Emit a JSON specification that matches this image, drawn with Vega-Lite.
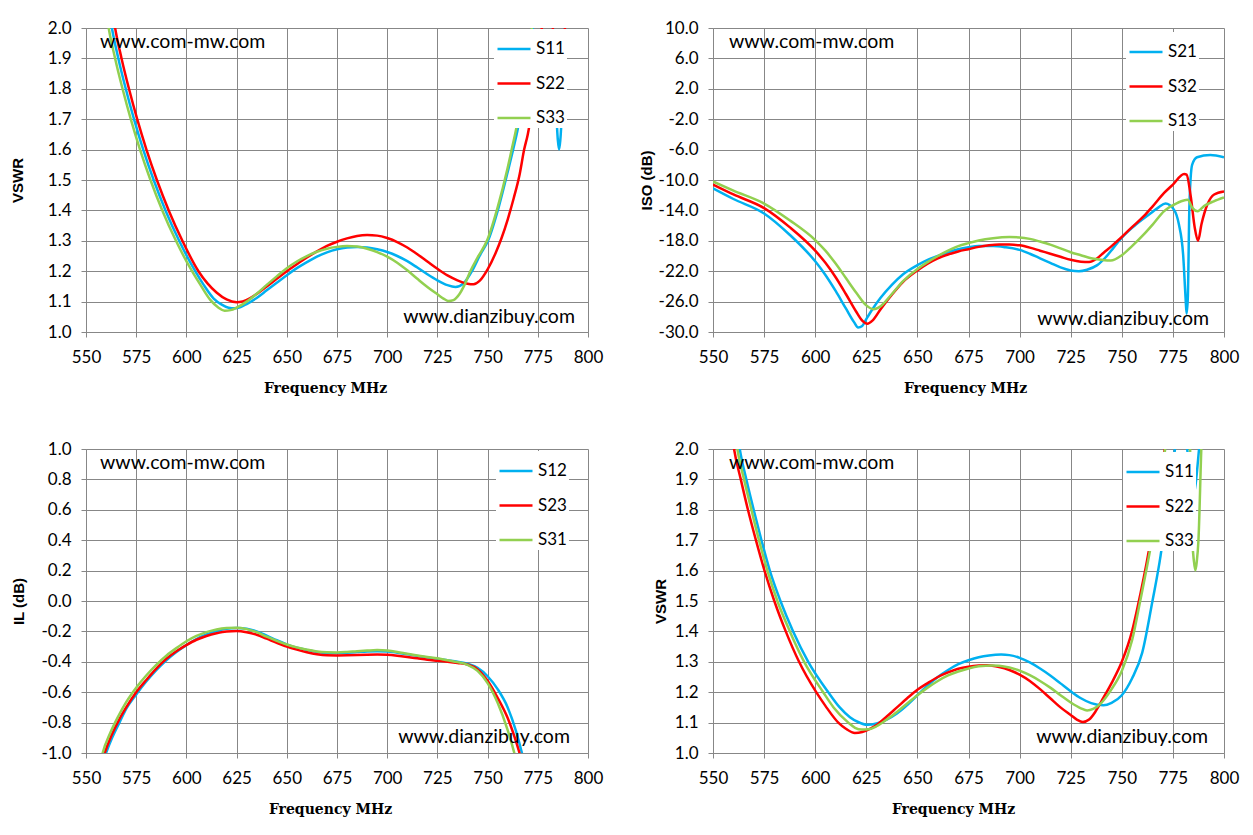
{
  "$schema": "https://vega.github.io/schema/vega-lite/v6.json",
  "padding": {"left": 10, "top": 19, "right": 5, "bottom": 5},
  "background": "white",
  "datasets": {
    "vswrA": [
      {"f": 556, "v": 2.35, "s": "S11"}, {"f": 562.9, "v": 2.0, "s": "S11"}, {"f": 566.1, "v": 1.9, "s": "S11"}, {"f": 569.8, "v": 1.8, "s": "S11"},
      {"f": 573.9, "v": 1.7, "s": "S11"}, {"f": 578.5, "v": 1.6, "s": "S11"}, {"f": 583.7, "v": 1.5, "s": "S11"}, {"f": 589.6, "v": 1.4, "s": "S11"},
      {"f": 596.4, "v": 1.3, "s": "S11"}, {"f": 604.4, "v": 1.2, "s": "S11"}, {"f": 608.6, "v": 1.155, "s": "S11"}, {"f": 613.6, "v": 1.11, "s": "S11"},
      {"f": 617.6, "v": 1.09, "s": "S11"}, {"f": 621, "v": 1.08, "s": "S11"}, {"f": 624, "v": 1.078, "s": "S11"}, {"f": 627, "v": 1.082, "s": "S11"},
      {"f": 630, "v": 1.092, "s": "S11"}, {"f": 635, "v": 1.112, "s": "S11"}, {"f": 640, "v": 1.137, "s": "S11"}, {"f": 645, "v": 1.162, "s": "S11"},
      {"f": 650, "v": 1.187, "s": "S11"}, {"f": 655, "v": 1.21, "s": "S11"}, {"f": 660, "v": 1.23, "s": "S11"}, {"f": 665, "v": 1.248, "s": "S11"},
      {"f": 670, "v": 1.262, "s": "S11"}, {"f": 675, "v": 1.272, "s": "S11"}, {"f": 680, "v": 1.278, "s": "S11"}, {"f": 685, "v": 1.28, "s": "S11"},
      {"f": 690, "v": 1.278, "s": "S11"}, {"f": 695, "v": 1.272, "s": "S11"}, {"f": 700, "v": 1.263, "s": "S11"}, {"f": 705, "v": 1.25, "s": "S11"},
      {"f": 710, "v": 1.233, "s": "S11"}, {"f": 715, "v": 1.212, "s": "S11"}, {"f": 720, "v": 1.19, "s": "S11"}, {"f": 725, "v": 1.17, "s": "S11"},
      {"f": 730, "v": 1.154, "s": "S11"}, {"f": 734, "v": 1.148, "s": "S11"}, {"f": 738, "v": 1.16, "s": "S11"}, {"f": 742.2, "v": 1.2, "s": "S11"},
      {"f": 746, "v": 1.25, "s": "S11"}, {"f": 750.5, "v": 1.305, "s": "S11"}, {"f": 755.5, "v": 1.41, "s": "S11"}, {"f": 760.5, "v": 1.54, "s": "S11"},
      {"f": 762.7, "v": 1.6, "s": "S11"}, {"f": 764.8, "v": 1.66, "s": "S11"}, {"f": 768.8, "v": 1.81, "s": "S11"}, {"f": 772.5, "v": 2.0, "s": "S11"},
      {"f": 776, "v": 2.3, "s": "S11"}, {"f": 779, "v": 2.3, "s": "S11"}, {"f": 782, "v": 2.1, "s": "S11"}, {"f": 784, "v": 1.75, "s": "S11"},
      {"f": 785, "v": 1.63, "s": "S11"}, {"f": 785.6, "v": 1.6, "s": "S11"}, {"f": 786.2, "v": 1.63, "s": "S11"}, {"f": 787.2, "v": 1.75, "s": "S11"},
      {"f": 789, "v": 2.1, "s": "S11"}, {"f": 794, "v": 2.6, "s": "S11"}, {"f": 800, "v": 2.8, "s": "S11"},
      {"f": 558, "v": 2.35, "s": "S22"}, {"f": 564.5, "v": 2.0, "s": "S22"}, {"f": 567.7, "v": 1.9, "s": "S22"}, {"f": 571.4, "v": 1.8, "s": "S22"},
      {"f": 575.5, "v": 1.7, "s": "S22"}, {"f": 580.1, "v": 1.6, "s": "S22"}, {"f": 585.3, "v": 1.5, "s": "S22"}, {"f": 591.2, "v": 1.4, "s": "S22"},
      {"f": 598, "v": 1.3, "s": "S22"}, {"f": 606, "v": 1.2, "s": "S22"}, {"f": 610.5, "v": 1.16, "s": "S22"}, {"f": 615, "v": 1.13, "s": "S22"},
      {"f": 620, "v": 1.107, "s": "S22"}, {"f": 625, "v": 1.098, "s": "S22"}, {"f": 628, "v": 1.1, "s": "S22"},
      {"f": 632, "v": 1.112, "s": "S22"}, {"f": 635, "v": 1.125, "s": "S22"}, {"f": 640, "v": 1.15, "s": "S22"}, {"f": 645, "v": 1.175, "s": "S22"},
      {"f": 650, "v": 1.2, "s": "S22"}, {"f": 655, "v": 1.223, "s": "S22"}, {"f": 660, "v": 1.245, "s": "S22"}, {"f": 665, "v": 1.265, "s": "S22"},
      {"f": 670, "v": 1.283, "s": "S22"}, {"f": 675, "v": 1.297, "s": "S22"}, {"f": 680, "v": 1.308, "s": "S22"}, {"f": 685, "v": 1.316, "s": "S22"},
      {"f": 690, "v": 1.319, "s": "S22"}, {"f": 695, "v": 1.317, "s": "S22"}, {"f": 700, "v": 1.309, "s": "S22"}, {"f": 705, "v": 1.296, "s": "S22"},
      {"f": 710, "v": 1.278, "s": "S22"}, {"f": 715, "v": 1.256, "s": "S22"}, {"f": 720, "v": 1.232, "s": "S22"}, {"f": 725, "v": 1.208, "s": "S22"},
      {"f": 730, "v": 1.186, "s": "S22"}, {"f": 735, "v": 1.17, "s": "S22"}, {"f": 740, "v": 1.159, "s": "S22"}, {"f": 743, "v": 1.157, "s": "S22"},
      {"f": 746, "v": 1.168, "s": "S22"}, {"f": 750, "v": 1.206, "s": "S22"}, {"f": 754, "v": 1.26, "s": "S22"}, {"f": 757, "v": 1.31, "s": "S22"},
      {"f": 760, "v": 1.37, "s": "S22"}, {"f": 763, "v": 1.44, "s": "S22"}, {"f": 766, "v": 1.52, "s": "S22"}, {"f": 768.2, "v": 1.6, "s": "S22"},
      {"f": 770, "v": 1.65, "s": "S22"}, {"f": 773.5, "v": 1.8, "s": "S22"}, {"f": 777, "v": 2.0, "s": "S22"}, {"f": 780, "v": 2.25, "s": "S22"},
      {"f": 781.5, "v": 2.2, "s": "S22"}, {"f": 782.5, "v": 2.0, "s": "S22"}, {"f": 785.5, "v": 1.8, "s": "S22"}, {"f": 788.5, "v": 2.0, "s": "S22"},
      {"f": 792, "v": 2.4, "s": "S22"}, {"f": 800, "v": 2.6, "s": "S22"},
      {"f": 555, "v": 2.35, "s": "S33"}, {"f": 561.3, "v": 2.0, "s": "S33"}, {"f": 564.5, "v": 1.9, "s": "S33"}, {"f": 568.2, "v": 1.8, "s": "S33"},
      {"f": 572.3, "v": 1.7, "s": "S33"}, {"f": 576.9, "v": 1.6, "s": "S33"}, {"f": 582.1, "v": 1.5, "s": "S33"}, {"f": 588, "v": 1.4, "s": "S33"},
      {"f": 594.8, "v": 1.3, "s": "S33"}, {"f": 602.8, "v": 1.2, "s": "S33"}, {"f": 607, "v": 1.155, "s": "S33"}, {"f": 612, "v": 1.105, "s": "S33"},
      {"f": 616, "v": 1.08, "s": "S33"}, {"f": 619, "v": 1.07, "s": "S33"}, {"f": 622, "v": 1.072, "s": "S33"}, {"f": 625, "v": 1.08, "s": "S33"},
      {"f": 630, "v": 1.1, "s": "S33"}, {"f": 635, "v": 1.126, "s": "S33"}, {"f": 640, "v": 1.155, "s": "S33"}, {"f": 645, "v": 1.183, "s": "S33"},
      {"f": 650, "v": 1.21, "s": "S33"}, {"f": 655, "v": 1.232, "s": "S33"}, {"f": 660, "v": 1.25, "s": "S33"}, {"f": 665, "v": 1.264, "s": "S33"},
      {"f": 670, "v": 1.274, "s": "S33"}, {"f": 675, "v": 1.28, "s": "S33"}, {"f": 680, "v": 1.283, "s": "S33"}, {"f": 685, "v": 1.281, "s": "S33"},
      {"f": 690, "v": 1.274, "s": "S33"}, {"f": 695, "v": 1.263, "s": "S33"}, {"f": 700, "v": 1.248, "s": "S33"}, {"f": 705, "v": 1.228, "s": "S33"},
      {"f": 710, "v": 1.203, "s": "S33"}, {"f": 715, "v": 1.175, "s": "S33"}, {"f": 720, "v": 1.148, "s": "S33"}, {"f": 725, "v": 1.124, "s": "S33"},
      {"f": 728, "v": 1.11, "s": "S33"}, {"f": 730.6, "v": 1.102, "s": "S33"}, {"f": 733, "v": 1.105, "s": "S33"}, {"f": 736, "v": 1.125, "s": "S33"},
      {"f": 738.5, "v": 1.155, "s": "S33"}, {"f": 741.4, "v": 1.2, "s": "S33"}, {"f": 745, "v": 1.245, "s": "S33"}, {"f": 750, "v": 1.305, "s": "S33"},
      {"f": 755, "v": 1.41, "s": "S33"}, {"f": 760, "v": 1.54, "s": "S33"}, {"f": 762, "v": 1.6, "s": "S33"}, {"f": 764, "v": 1.66, "s": "S33"},
      {"f": 768, "v": 1.81, "s": "S33"}, {"f": 772, "v": 2.0, "s": "S33"}, {"f": 776, "v": 2.4, "s": "S33"}, {"f": 780, "v": 2.7, "s": "S33"},
      {"f": 790, "v": 3.0, "s": "S33"}, {"f": 800, "v": 3.0, "s": "S33"}
    ],
    "iso": [
      {"f": 550, "v": -11.1, "s": "S21"}, {"f": 560, "v": -12.5, "s": "S21"}, {"f": 575, "v": -14.4, "s": "S21"}, {"f": 587.5, "v": -17.2, "s": "S21"},
      {"f": 600, "v": -20.7, "s": "S21"}, {"f": 605, "v": -22.5, "s": "S21"}, {"f": 610, "v": -24.6, "s": "S21"}, {"f": 615, "v": -26.9, "s": "S21"},
      {"f": 619, "v": -28.7, "s": "S21"}, {"f": 621, "v": -29.4, "s": "S21"}, {"f": 623, "v": -29.2, "s": "S21"}, {"f": 625, "v": -28.3, "s": "S21"},
      {"f": 628, "v": -27.0, "s": "S21"}, {"f": 632, "v": -25.5, "s": "S21"}, {"f": 637.5, "v": -23.8, "s": "S21"}, {"f": 643, "v": -22.4, "s": "S21"},
      {"f": 650, "v": -21.2, "s": "S21"}, {"f": 655, "v": -20.5, "s": "S21"}, {"f": 660, "v": -20.0, "s": "S21"}, {"f": 665, "v": -19.5, "s": "S21"},
      {"f": 670, "v": -19.1, "s": "S21"}, {"f": 675, "v": -18.85, "s": "S21"}, {"f": 680, "v": -18.7, "s": "S21"}, {"f": 687, "v": -18.7, "s": "S21"},
      {"f": 693, "v": -18.85, "s": "S21"}, {"f": 700, "v": -19.2, "s": "S21"}, {"f": 705, "v": -19.7, "s": "S21"}, {"f": 710, "v": -20.3, "s": "S21"},
      {"f": 715, "v": -20.9, "s": "S21"}, {"f": 720, "v": -21.5, "s": "S21"}, {"f": 725, "v": -21.9, "s": "S21"}, {"f": 729, "v": -22.0, "s": "S21"},
      {"f": 733, "v": -21.8, "s": "S21"}, {"f": 738, "v": -21.2, "s": "S21"}, {"f": 742, "v": -20.2, "s": "S21"}, {"f": 746, "v": -18.9, "s": "S21"},
      {"f": 750, "v": -17.6, "s": "S21"}, {"f": 755, "v": -16.3, "s": "S21"}, {"f": 760, "v": -15.2, "s": "S21"}, {"f": 765, "v": -14.2, "s": "S21"},
      {"f": 768, "v": -13.6, "s": "S21"}, {"f": 771.4, "v": -13.1, "s": "S21"}, {"f": 775.5, "v": -13.9, "s": "S21"}, {"f": 777.9, "v": -15.8, "s": "S21"},
      {"f": 780, "v": -19.8, "s": "S21"}, {"f": 781.2, "v": -25.5, "s": "S21"}, {"f": 781.7, "v": -27.6, "s": "S21"}, {"f": 782.3, "v": -25.5, "s": "S21"},
      {"f": 783.1, "v": -13.2, "s": "S21"}, {"f": 784.4, "v": -8.0, "s": "S21"}, {"f": 786.8, "v": -7.0, "s": "S21"}, {"f": 793.3, "v": -6.7, "s": "S21"},
      {"f": 800, "v": -7.0, "s": "S21"},
      {"f": 550, "v": -10.6, "s": "S32"}, {"f": 560, "v": -11.9, "s": "S32"}, {"f": 575, "v": -13.7, "s": "S32"}, {"f": 587.5, "v": -16.2, "s": "S32"},
      {"f": 600, "v": -19.3, "s": "S32"}, {"f": 605, "v": -20.9, "s": "S32"}, {"f": 610, "v": -22.8, "s": "S32"}, {"f": 615, "v": -25.0, "s": "S32"},
      {"f": 620, "v": -27.3, "s": "S32"}, {"f": 623, "v": -28.5, "s": "S32"}, {"f": 625.5, "v": -28.9, "s": "S32"}, {"f": 628, "v": -28.5, "s": "S32"},
      {"f": 632, "v": -27.0, "s": "S32"}, {"f": 637.5, "v": -25.1, "s": "S32"}, {"f": 643, "v": -23.4, "s": "S32"}, {"f": 650, "v": -21.9, "s": "S32"},
      {"f": 655, "v": -21.0, "s": "S32"}, {"f": 660, "v": -20.3, "s": "S32"}, {"f": 665, "v": -19.8, "s": "S32"}, {"f": 670, "v": -19.4, "s": "S32"},
      {"f": 675, "v": -19.1, "s": "S32"}, {"f": 680, "v": -18.8, "s": "S32"}, {"f": 685, "v": -18.6, "s": "S32"}, {"f": 690, "v": -18.5, "s": "S32"},
      {"f": 695, "v": -18.5, "s": "S32"}, {"f": 700, "v": -18.6, "s": "S32"}, {"f": 705, "v": -18.9, "s": "S32"}, {"f": 710, "v": -19.3, "s": "S32"},
      {"f": 715, "v": -19.7, "s": "S32"}, {"f": 720, "v": -20.1, "s": "S32"}, {"f": 725, "v": -20.5, "s": "S32"}, {"f": 730, "v": -20.75, "s": "S32"},
      {"f": 734, "v": -20.8, "s": "S32"}, {"f": 738, "v": -20.3, "s": "S32"}, {"f": 741, "v": -19.6, "s": "S32"}, {"f": 745, "v": -18.7, "s": "S32"},
      {"f": 750, "v": -17.5, "s": "S32"}, {"f": 755, "v": -16.2, "s": "S32"}, {"f": 761, "v": -14.7, "s": "S32"}, {"f": 765, "v": -13.5, "s": "S32"},
      {"f": 770.7, "v": -11.7, "s": "S32"}, {"f": 775, "v": -10.6, "s": "S32"}, {"f": 780.5, "v": -9.2, "s": "S32"}, {"f": 781.7, "v": -9.3, "s": "S32"},
      {"f": 783.7, "v": -12.1, "s": "S32"}, {"f": 785.7, "v": -16.3, "s": "S32"}, {"f": 787.3, "v": -18.0, "s": "S32"}, {"f": 789, "v": -15.8, "s": "S32"},
      {"f": 791.9, "v": -13.2, "s": "S32"}, {"f": 795.2, "v": -11.9, "s": "S32"}, {"f": 800, "v": -11.5, "s": "S32"},
      {"f": 550, "v": -10.2, "s": "S13"}, {"f": 560, "v": -11.4, "s": "S13"}, {"f": 575, "v": -13.1, "s": "S13"}, {"f": 587.5, "v": -15.3, "s": "S13"},
      {"f": 600, "v": -17.9, "s": "S13"}, {"f": 605, "v": -19.3, "s": "S13"}, {"f": 610, "v": -21.0, "s": "S13"}, {"f": 615, "v": -22.9, "s": "S13"},
      {"f": 620, "v": -24.8, "s": "S13"}, {"f": 625, "v": -26.5, "s": "S13"}, {"f": 628.5, "v": -27.0, "s": "S13"}, {"f": 632, "v": -26.6, "s": "S13"},
      {"f": 637.5, "v": -25.0, "s": "S13"}, {"f": 643, "v": -23.3, "s": "S13"}, {"f": 650, "v": -21.7, "s": "S13"}, {"f": 655, "v": -20.8, "s": "S13"},
      {"f": 660, "v": -20.0, "s": "S13"}, {"f": 665, "v": -19.3, "s": "S13"}, {"f": 670, "v": -18.7, "s": "S13"}, {"f": 675, "v": -18.3, "s": "S13"},
      {"f": 680, "v": -17.95, "s": "S13"}, {"f": 687, "v": -17.65, "s": "S13"}, {"f": 695, "v": -17.5, "s": "S13"}, {"f": 700, "v": -17.55, "s": "S13"},
      {"f": 705, "v": -17.75, "s": "S13"}, {"f": 710, "v": -18.1, "s": "S13"}, {"f": 715, "v": -18.5, "s": "S13"}, {"f": 720, "v": -19.0, "s": "S13"},
      {"f": 725, "v": -19.5, "s": "S13"}, {"f": 730, "v": -19.9, "s": "S13"}, {"f": 735, "v": -20.3, "s": "S13"}, {"f": 740, "v": -20.5, "s": "S13"},
      {"f": 744.6, "v": -20.6, "s": "S13"}, {"f": 750, "v": -19.9, "s": "S13"}, {"f": 755, "v": -18.7, "s": "S13"}, {"f": 761, "v": -17.1, "s": "S13"},
      {"f": 765, "v": -15.9, "s": "S13"}, {"f": 770.7, "v": -14.1, "s": "S13"}, {"f": 777.3, "v": -13.0, "s": "S13"}, {"f": 782.2, "v": -12.6, "s": "S13"},
      {"f": 784.6, "v": -13.7, "s": "S13"}, {"f": 787.1, "v": -14.1, "s": "S13"}, {"f": 790.4, "v": -13.4, "s": "S13"}, {"f": 795, "v": -12.8, "s": "S13"},
      {"f": 800, "v": -12.3, "s": "S13"}
    ],
    "il": [
      {"f": 557, "v": -1.12, "s": "S12"}, {"f": 560, "v": -1.0, "s": "S12"}, {"f": 563, "v": -0.9, "s": "S12"}, {"f": 567, "v": -0.79, "s": "S12"},
      {"f": 570, "v": -0.71, "s": "S12"}, {"f": 575, "v": -0.615, "s": "S12"}, {"f": 580, "v": -0.53, "s": "S12"}, {"f": 585, "v": -0.455, "s": "S12"},
      {"f": 590, "v": -0.39, "s": "S12"}, {"f": 595, "v": -0.335, "s": "S12"}, {"f": 600, "v": -0.29, "s": "S12"}, {"f": 605, "v": -0.25, "s": "S12"},
      {"f": 610, "v": -0.22, "s": "S12"}, {"f": 615, "v": -0.198, "s": "S12"}, {"f": 620, "v": -0.183, "s": "S12"}, {"f": 625, "v": -0.178, "s": "S12"},
      {"f": 630, "v": -0.183, "s": "S12"}, {"f": 635, "v": -0.2, "s": "S12"}, {"f": 640, "v": -0.228, "s": "S12"}, {"f": 645, "v": -0.258, "s": "S12"},
      {"f": 650, "v": -0.285, "s": "S12"}, {"f": 655, "v": -0.307, "s": "S12"}, {"f": 660, "v": -0.322, "s": "S12"}, {"f": 665, "v": -0.335, "s": "S12"},
      {"f": 670, "v": -0.342, "s": "S12"}, {"f": 675, "v": -0.343, "s": "S12"}, {"f": 680, "v": -0.34, "s": "S12"}, {"f": 685, "v": -0.336, "s": "S12"},
      {"f": 690, "v": -0.332, "s": "S12"}, {"f": 695, "v": -0.33, "s": "S12"}, {"f": 700, "v": -0.332, "s": "S12"}, {"f": 705, "v": -0.34, "s": "S12"},
      {"f": 710, "v": -0.35, "s": "S12"}, {"f": 715, "v": -0.362, "s": "S12"}, {"f": 720, "v": -0.372, "s": "S12"}, {"f": 725, "v": -0.38, "s": "S12"},
      {"f": 730, "v": -0.39, "s": "S12"}, {"f": 735, "v": -0.4, "s": "S12"}, {"f": 740, "v": -0.412, "s": "S12"}, {"f": 745, "v": -0.44, "s": "S12"},
      {"f": 750, "v": -0.495, "s": "S12"}, {"f": 755, "v": -0.58, "s": "S12"}, {"f": 760, "v": -0.7, "s": "S12"}, {"f": 764, "v": -0.85, "s": "S12"},
      {"f": 767.1, "v": -1.0, "s": "S12"}, {"f": 769, "v": -1.1, "s": "S12"},
      {"f": 556.5, "v": -1.12, "s": "S23"}, {"f": 559.3, "v": -1.0, "s": "S23"}, {"f": 562.5, "v": -0.89, "s": "S23"}, {"f": 566.5, "v": -0.78, "s": "S23"},
      {"f": 570, "v": -0.7, "s": "S23"}, {"f": 575, "v": -0.6, "s": "S23"}, {"f": 580, "v": -0.52, "s": "S23"}, {"f": 585, "v": -0.445, "s": "S23"},
      {"f": 590, "v": -0.38, "s": "S23"}, {"f": 595, "v": -0.33, "s": "S23"}, {"f": 600, "v": -0.29, "s": "S23"}, {"f": 605, "v": -0.255, "s": "S23"},
      {"f": 610, "v": -0.23, "s": "S23"}, {"f": 615, "v": -0.212, "s": "S23"}, {"f": 620, "v": -0.2, "s": "S23"}, {"f": 625, "v": -0.197, "s": "S23"},
      {"f": 630, "v": -0.205, "s": "S23"}, {"f": 635, "v": -0.222, "s": "S23"}, {"f": 640, "v": -0.248, "s": "S23"}, {"f": 645, "v": -0.275, "s": "S23"},
      {"f": 650, "v": -0.3, "s": "S23"}, {"f": 655, "v": -0.32, "s": "S23"}, {"f": 660, "v": -0.337, "s": "S23"}, {"f": 665, "v": -0.35, "s": "S23"},
      {"f": 670, "v": -0.357, "s": "S23"}, {"f": 675, "v": -0.358, "s": "S23"}, {"f": 680, "v": -0.357, "s": "S23"}, {"f": 685, "v": -0.355, "s": "S23"},
      {"f": 690, "v": -0.353, "s": "S23"}, {"f": 695, "v": -0.352, "s": "S23"}, {"f": 700, "v": -0.354, "s": "S23"}, {"f": 705, "v": -0.36, "s": "S23"},
      {"f": 710, "v": -0.368, "s": "S23"}, {"f": 715, "v": -0.377, "s": "S23"}, {"f": 720, "v": -0.386, "s": "S23"}, {"f": 725, "v": -0.393, "s": "S23"},
      {"f": 730, "v": -0.4, "s": "S23"}, {"f": 735, "v": -0.408, "s": "S23"}, {"f": 740, "v": -0.418, "s": "S23"}, {"f": 745, "v": -0.45, "s": "S23"},
      {"f": 750, "v": -0.525, "s": "S23"}, {"f": 755, "v": -0.637, "s": "S23"}, {"f": 760, "v": -0.77, "s": "S23"}, {"f": 765.9, "v": -1.0, "s": "S23"},
      {"f": 768, "v": -1.1, "s": "S23"},
      {"f": 556, "v": -1.15, "s": "S31"}, {"f": 558.3, "v": -1.0, "s": "S31"}, {"f": 562, "v": -0.87, "s": "S31"}, {"f": 566, "v": -0.76, "s": "S31"},
      {"f": 570, "v": -0.665, "s": "S31"}, {"f": 575, "v": -0.57, "s": "S31"}, {"f": 580, "v": -0.49, "s": "S31"}, {"f": 585, "v": -0.42, "s": "S31"},
      {"f": 590, "v": -0.36, "s": "S31"}, {"f": 595, "v": -0.31, "s": "S31"}, {"f": 600, "v": -0.265, "s": "S31"}, {"f": 605, "v": -0.23, "s": "S31"},
      {"f": 610, "v": -0.205, "s": "S31"}, {"f": 615, "v": -0.187, "s": "S31"}, {"f": 620, "v": -0.178, "s": "S31"}, {"f": 625, "v": -0.176, "s": "S31"},
      {"f": 630, "v": -0.185, "s": "S31"}, {"f": 635, "v": -0.205, "s": "S31"}, {"f": 640, "v": -0.235, "s": "S31"}, {"f": 645, "v": -0.262, "s": "S31"},
      {"f": 650, "v": -0.286, "s": "S31"}, {"f": 655, "v": -0.305, "s": "S31"}, {"f": 660, "v": -0.32, "s": "S31"}, {"f": 665, "v": -0.332, "s": "S31"},
      {"f": 670, "v": -0.337, "s": "S31"}, {"f": 675, "v": -0.338, "s": "S31"}, {"f": 680, "v": -0.335, "s": "S31"}, {"f": 685, "v": -0.33, "s": "S31"},
      {"f": 690, "v": -0.326, "s": "S31"}, {"f": 695, "v": -0.323, "s": "S31"}, {"f": 700, "v": -0.326, "s": "S31"}, {"f": 705, "v": -0.335, "s": "S31"},
      {"f": 710, "v": -0.347, "s": "S31"}, {"f": 715, "v": -0.358, "s": "S31"}, {"f": 720, "v": -0.368, "s": "S31"}, {"f": 725, "v": -0.377, "s": "S31"},
      {"f": 730, "v": -0.39, "s": "S31"}, {"f": 735, "v": -0.402, "s": "S31"}, {"f": 740, "v": -0.42, "s": "S31"}, {"f": 745, "v": -0.46, "s": "S31"},
      {"f": 750, "v": -0.54, "s": "S31"}, {"f": 755, "v": -0.67, "s": "S31"}, {"f": 760, "v": -0.85, "s": "S31"}, {"f": 763.3, "v": -1.0, "s": "S31"},
      {"f": 766, "v": -1.15, "s": "S31"}
    ],
    "vswrB": [
      {"f": 558, "v": 2.3, "s": "S11"}, {"f": 563.1, "v": 2.0, "s": "S11"}, {"f": 566.3, "v": 1.9, "s": "S11"}, {"f": 569.9, "v": 1.8, "s": "S11"},
      {"f": 573.7, "v": 1.7, "s": "S11"}, {"f": 577.8, "v": 1.6, "s": "S11"}, {"f": 583, "v": 1.5, "s": "S11"}, {"f": 589.2, "v": 1.4, "s": "S11"},
      {"f": 596.6, "v": 1.3, "s": "S11"}, {"f": 606.4, "v": 1.2, "s": "S11"}, {"f": 612, "v": 1.15, "s": "S11"},
      {"f": 617, "v": 1.118, "s": "S11"}, {"f": 621, "v": 1.102, "s": "S11"}, {"f": 625.5, "v": 1.093, "s": "S11"}, {"f": 630, "v": 1.097, "s": "S11"},
      {"f": 635, "v": 1.11, "s": "S11"}, {"f": 640, "v": 1.13, "s": "S11"}, {"f": 645, "v": 1.158, "s": "S11"}, {"f": 650, "v": 1.19, "s": "S11"},
      {"f": 655, "v": 1.222, "s": "S11"}, {"f": 660, "v": 1.25, "s": "S11"}, {"f": 665, "v": 1.273, "s": "S11"}, {"f": 670, "v": 1.292, "s": "S11"},
      {"f": 675, "v": 1.305, "s": "S11"}, {"f": 680, "v": 1.315, "s": "S11"}, {"f": 685, "v": 1.321, "s": "S11"}, {"f": 691, "v": 1.324, "s": "S11"},
      {"f": 695, "v": 1.322, "s": "S11"}, {"f": 700, "v": 1.313, "s": "S11"}, {"f": 705, "v": 1.298, "s": "S11"}, {"f": 710, "v": 1.278, "s": "S11"},
      {"f": 715, "v": 1.255, "s": "S11"}, {"f": 720, "v": 1.229, "s": "S11"}, {"f": 725, "v": 1.203, "s": "S11"}, {"f": 730, "v": 1.18, "s": "S11"},
      {"f": 735, "v": 1.164, "s": "S11"}, {"f": 741, "v": 1.157, "s": "S11"}, {"f": 745, "v": 1.165, "s": "S11"}, {"f": 750, "v": 1.19, "s": "S11"},
      {"f": 755, "v": 1.245, "s": "S11"}, {"f": 760, "v": 1.33, "s": "S11"}, {"f": 765, "v": 1.5, "s": "S11"}, {"f": 769, "v": 1.65, "s": "S11"},
      {"f": 772, "v": 1.8, "s": "S11"}, {"f": 776, "v": 2.0, "s": "S11"}, {"f": 779, "v": 2.2, "s": "S11"}, {"f": 782, "v": 2.0, "s": "S11"},
      {"f": 785, "v": 1.85, "s": "S11"}, {"f": 787.8, "v": 2.0, "s": "S11"}, {"f": 792, "v": 2.4, "s": "S11"}, {"f": 800, "v": 2.6, "s": "S11"},
      {"f": 556, "v": 2.25, "s": "S22"}, {"f": 560.3, "v": 2.0, "s": "S22"}, {"f": 563.6, "v": 1.9, "s": "S22"}, {"f": 567.1, "v": 1.8, "s": "S22"},
      {"f": 571, "v": 1.7, "s": "S22"}, {"f": 575.2, "v": 1.6, "s": "S22"}, {"f": 580, "v": 1.5, "s": "S22"}, {"f": 585.6, "v": 1.4, "s": "S22"},
      {"f": 592.1, "v": 1.3, "s": "S22"}, {"f": 600.5, "v": 1.2, "s": "S22"}, {"f": 605, "v": 1.155, "s": "S22"}, {"f": 611.3, "v": 1.1, "s": "S22"},
      {"f": 615, "v": 1.08, "s": "S22"}, {"f": 619.4, "v": 1.066, "s": "S22"}, {"f": 623, "v": 1.069, "s": "S22"}, {"f": 627, "v": 1.08, "s": "S22"},
      {"f": 630, "v": 1.092, "s": "S22"}, {"f": 635, "v": 1.12, "s": "S22"}, {"f": 640, "v": 1.15, "s": "S22"}, {"f": 645, "v": 1.18, "s": "S22"},
      {"f": 650, "v": 1.208, "s": "S22"}, {"f": 655, "v": 1.23, "s": "S22"}, {"f": 660, "v": 1.25, "s": "S22"}, {"f": 665, "v": 1.265, "s": "S22"},
      {"f": 670, "v": 1.277, "s": "S22"}, {"f": 675, "v": 1.284, "s": "S22"}, {"f": 680, "v": 1.288, "s": "S22"}, {"f": 684, "v": 1.289, "s": "S22"},
      {"f": 690, "v": 1.283, "s": "S22"}, {"f": 695, "v": 1.273, "s": "S22"}, {"f": 700, "v": 1.258, "s": "S22"}, {"f": 705, "v": 1.237, "s": "S22"},
      {"f": 710, "v": 1.21, "s": "S22"}, {"f": 715, "v": 1.18, "s": "S22"}, {"f": 720, "v": 1.15, "s": "S22"}, {"f": 725, "v": 1.125, "s": "S22"},
      {"f": 728, "v": 1.11, "s": "S22"}, {"f": 731, "v": 1.102, "s": "S22"}, {"f": 734, "v": 1.11, "s": "S22"}, {"f": 737, "v": 1.135, "s": "S22"},
      {"f": 740, "v": 1.17, "s": "S22"}, {"f": 745, "v": 1.23, "s": "S22"}, {"f": 750, "v": 1.3, "s": "S22"}, {"f": 755, "v": 1.4, "s": "S22"},
      {"f": 759, "v": 1.52, "s": "S22"}, {"f": 762, "v": 1.62, "s": "S22"}, {"f": 765, "v": 1.73, "s": "S22"}, {"f": 768, "v": 1.85, "s": "S22"},
      {"f": 771, "v": 2.0, "s": "S22"}, {"f": 775, "v": 2.3, "s": "S22"}, {"f": 785, "v": 2.8, "s": "S22"}, {"f": 800, "v": 3.0, "s": "S22"},
      {"f": 557, "v": 2.3, "s": "S33"}, {"f": 561.9, "v": 2.0, "s": "S33"}, {"f": 565.2, "v": 1.9, "s": "S33"}, {"f": 568.8, "v": 1.8, "s": "S33"},
      {"f": 572.5, "v": 1.7, "s": "S33"}, {"f": 576.6, "v": 1.6, "s": "S33"}, {"f": 581.5, "v": 1.5, "s": "S33"}, {"f": 587.6, "v": 1.4, "s": "S33"},
      {"f": 594.6, "v": 1.3, "s": "S33"}, {"f": 603.9, "v": 1.2, "s": "S33"}, {"f": 609, "v": 1.15, "s": "S33"}, {"f": 616.2, "v": 1.1, "s": "S33"},
      {"f": 619.5, "v": 1.083, "s": "S33"}, {"f": 622.7, "v": 1.077, "s": "S33"}, {"f": 626, "v": 1.078, "s": "S33"}, {"f": 630, "v": 1.088, "s": "S33"},
      {"f": 635, "v": 1.11, "s": "S33"}, {"f": 640, "v": 1.135, "s": "S33"}, {"f": 645, "v": 1.163, "s": "S33"}, {"f": 650, "v": 1.19, "s": "S33"},
      {"f": 655, "v": 1.215, "s": "S33"}, {"f": 660, "v": 1.237, "s": "S33"}, {"f": 665, "v": 1.255, "s": "S33"}, {"f": 670, "v": 1.268, "s": "S33"},
      {"f": 675, "v": 1.278, "s": "S33"}, {"f": 680, "v": 1.285, "s": "S33"}, {"f": 687, "v": 1.288, "s": "S33"}, {"f": 690, "v": 1.287, "s": "S33"},
      {"f": 695, "v": 1.281, "s": "S33"}, {"f": 700, "v": 1.271, "s": "S33"}, {"f": 705, "v": 1.256, "s": "S33"}, {"f": 710, "v": 1.237, "s": "S33"},
      {"f": 715, "v": 1.215, "s": "S33"}, {"f": 720, "v": 1.19, "s": "S33"}, {"f": 725, "v": 1.166, "s": "S33"}, {"f": 730, "v": 1.147, "s": "S33"},
      {"f": 733, "v": 1.14, "s": "S33"}, {"f": 736, "v": 1.145, "s": "S33"}, {"f": 740, "v": 1.165, "s": "S33"}, {"f": 745, "v": 1.21, "s": "S33"},
      {"f": 750, "v": 1.27, "s": "S33"}, {"f": 755, "v": 1.37, "s": "S33"}, {"f": 759, "v": 1.5, "s": "S33"}, {"f": 762.8, "v": 1.63, "s": "S33"},
      {"f": 766, "v": 1.75, "s": "S33"}, {"f": 771.2, "v": 2.0, "s": "S33"}, {"f": 776, "v": 2.3, "s": "S33"}, {"f": 780, "v": 2.3, "s": "S33"},
      {"f": 783.4, "v": 2.0, "s": "S33"}, {"f": 784.5, "v": 1.7, "s": "S33"}, {"f": 785.3, "v": 1.63, "s": "S33"}, {"f": 786, "v": 1.6, "s": "S33"},
      {"f": 786.7, "v": 1.63, "s": "S33"}, {"f": 787.5, "v": 1.7, "s": "S33"}, {"f": 788.9, "v": 2.0, "s": "S33"}, {"f": 792, "v": 2.4, "s": "S33"},
      {"f": 800, "v": 2.7, "s": "S33"}
    ]
  },
  "columns": 2,
  "bounds": "flush",
  "spacing": {"row": 117, "column": 125},
  "resolve": {"scale": {"x": "independent", "y": "independent", "color": "independent"}, "legend": {"color": "independent"}},
  "concat": [
    {
      "width": 502,
      "height": 304,
      "layer": [
        {
          "data": {"name": "vswrA"},
          "mark": {"type": "line", "clip": true, "interpolate": "monotone", "strokeWidth": 2.5},
          "encoding": {
            "x": {"field": "f", "type": "quantitative", "scale": {"domain": [550, 800], "nice": false},
                  "axis": {"values": [550, 575, 600, 625, 650, 675, 700, 725, 750, 775, 800], "title": "Frequency MHz", "titleX": 239}},
            "y": {"field": "v", "type": "quantitative", "scale": {"domain": [1, 2], "nice": false, "zero": false},
                  "axis": {"values": [1, 1.1, 1.2, 1.3, 1.4, 1.5, 1.6, 1.7, 1.8, 1.9, 2], "tickCount": 20, "labelExpr": "format(datum.value, '.1f')", "title": "VSWR", "titlePadding": 22}},
            "color": {"field": "s", "type": "nominal", "scale": {"domain": ["S11", "S22", "S33"], "range": ["#00B0F0", "#FF0000", "#92D050"]},
                      "legend": {"legendX": 408, "legendY": 1}}
          }
        },
        {
          "data": {"values": [{"f": 557, "v": 1.954, "t": "www.com-mw.com"}]},
          "mark": {"type": "text", "align": "left"},
          "encoding": {"x": {"field": "f", "type": "quantitative"}, "y": {"field": "v", "type": "quantitative"}, "text": {"field": "t"}}
        },
        {
          "data": {"values": [{"f": 793.5, "v": 1.049, "t": "www.dianzibuy.com"}]},
          "mark": {"type": "text", "align": "right"},
          "encoding": {"x": {"field": "f", "type": "quantitative"}, "y": {"field": "v", "type": "quantitative"}, "text": {"field": "t"}}
        }
      ]
    },
    {
      "width": 511,
      "height": 304,
      "layer": [
        {
          "data": {"name": "iso"},
          "mark": {"type": "line", "clip": true, "interpolate": "monotone", "strokeWidth": 2.5},
          "encoding": {
            "x": {"field": "f", "type": "quantitative", "scale": {"domain": [550, 800], "nice": false},
                  "axis": {"values": [550, 575, 600, 625, 650, 675, 700, 725, 750, 775, 800], "title": "Frequency MHz", "titleX": 252}},
            "y": {"field": "v", "type": "quantitative", "scale": {"domain": [-30, 10], "nice": false, "zero": false},
                  "axis": {"values": [-30, -26, -22, -18, -14, -10, -6, -2, 2, 6, 10], "tickCount": 20, "labelExpr": "replace(format(datum.value, '.1f'), '−', '-')", "title": "ISO (dB)", "titlePadding": 4}},
            "color": {"field": "s", "type": "nominal", "scale": {"domain": ["S21", "S32", "S13"], "range": ["#00B0F0", "#FF0000", "#92D050"]},
                      "legend": {"legendX": 413, "legendY": 4}}
          }
        },
        {
          "data": {"values": [{"f": 557.8, "v": 8.15, "t": "www.com-mw.com"}]},
          "mark": {"type": "text", "align": "left"},
          "encoding": {"x": {"field": "f", "type": "quantitative"}, "y": {"field": "v", "type": "quantitative"}, "text": {"field": "t"}}
        },
        {
          "data": {"values": [{"f": 792.7, "v": -28.3, "t": "www.dianzibuy.com"}]},
          "mark": {"type": "text", "align": "right"},
          "encoding": {"x": {"field": "f", "type": "quantitative"}, "y": {"field": "v", "type": "quantitative"}, "text": {"field": "t"}}
        }
      ]
    },
    {
      "width": 502,
      "height": 304,
      "layer": [
        {
          "data": {"name": "il"},
          "mark": {"type": "line", "clip": true, "interpolate": "monotone", "strokeWidth": 2.5},
          "encoding": {
            "x": {"field": "f", "type": "quantitative", "scale": {"domain": [550, 800], "nice": false},
                  "axis": {"values": [550, 575, 600, 625, 650, 675, 700, 725, 750, 775, 800], "title": "Frequency MHz", "titleX": 244}},
            "y": {"field": "v", "type": "quantitative", "scale": {"domain": [-1, 1], "nice": false, "zero": false},
                  "axis": {"values": [-1, -0.8, -0.6, -0.4, -0.2, 0, 0.2, 0.4, 0.6, 0.8, 1], "tickCount": 20, "labelExpr": "replace(format(datum.value, '.1f'), '−', '-')", "title": "IL (dB)", "titlePadding": 14}},
            "color": {"field": "s", "type": "nominal", "scale": {"domain": ["S12", "S23", "S31"], "range": ["#00B0F0", "#FF0000", "#92D050"]},
                      "legend": {"legendX": 410, "legendY": 2}}
          }
        },
        {
          "data": {"values": [{"f": 557, "v": 0.908, "t": "www.com-mw.com"}]},
          "mark": {"type": "text", "align": "left"},
          "encoding": {"x": {"field": "f", "type": "quantitative"}, "y": {"field": "v", "type": "quantitative"}, "text": {"field": "t"}}
        },
        {
          "data": {"values": [{"f": 791, "v": -0.894, "t": "www.dianzibuy.com"}]},
          "mark": {"type": "text", "align": "right"},
          "encoding": {"x": {"field": "f", "type": "quantitative"}, "y": {"field": "v", "type": "quantitative"}, "text": {"field": "t"}}
        }
      ]
    },
    {
      "width": 511,
      "height": 304,
      "layer": [
        {
          "data": {"name": "vswrB"},
          "mark": {"type": "line", "clip": true, "interpolate": "monotone", "strokeWidth": 2.5},
          "encoding": {
            "x": {"field": "f", "type": "quantitative", "scale": {"domain": [550, 800], "nice": false},
                  "axis": {"values": [550, 575, 600, 625, 650, 675, 700, 725, 750, 775, 800], "title": "Frequency MHz", "titleX": 240}},
            "y": {"field": "v", "type": "quantitative", "scale": {"domain": [1, 2], "nice": false, "zero": false},
                  "axis": {"values": [1, 1.1, 1.2, 1.3, 1.4, 1.5, 1.6, 1.7, 1.8, 1.9, 2], "tickCount": 20, "labelExpr": "format(datum.value, '.1f')", "title": "VSWR", "titlePadding": 6}},
            "color": {"field": "s", "type": "nominal", "scale": {"domain": ["S11", "S22", "S33"], "range": ["#00B0F0", "#FF0000", "#92D050"]},
                      "legend": {"legendX": 410, "legendY": 3}}
          }
        },
        {
          "data": {"values": [{"f": 557.8, "v": 1.954, "t": "www.com-mw.com"}]},
          "mark": {"type": "text", "align": "left"},
          "encoding": {"x": {"field": "f", "type": "quantitative"}, "y": {"field": "v", "type": "quantitative"}, "text": {"field": "t"}}
        },
        {
          "data": {"values": [{"f": 792.2, "v": 1.053, "t": "www.dianzibuy.com"}]},
          "mark": {"type": "text", "align": "right"},
          "encoding": {"x": {"field": "f", "type": "quantitative"}, "y": {"field": "v", "type": "quantitative"}, "text": {"field": "t"}}
        }
      ]
    }
  ],
  "config": {
    "view": {"stroke": null},
    "axis": {
      "grid": true,
      "gridColor": "#878787",
      "gridOpacity": 1,
      "gridWidth": 1,
      "domainColor": "#878787",
      "domainWidth": 1,
      "tickColor": "#878787",
      "tickSize": 5,
      "labelFont": "Lato",
      "labelFontSize": 17,
      "labelColor": "#000000",
      "labelOverlap": false,
      "labelFlush": false,
      "titleColor": "#000000"
    },
    "axisX": {"labelPadding": 12, "tickCount": 20, "titleFont": "DejaVu Serif", "titleFontSize": 14, "titleFontWeight": "bold", "titlePadding": 16},
    "axisY": {"labelPadding": 10, "titleFont": "Liberation Sans", "titleFontSize": 15, "titleFontWeight": "bold"},
    "legend": {
      "orient": "none",
      "title": null,
      "fillColor": "white",
      "padding": 2,
      "symbolType": "stroke",
      "symbolSize": 1089,
      "symbolStrokeWidth": 2.5,
      "labelFont": "Lato",
      "labelFontSize": 17,
      "labelColor": "#000000",
      "labelOffset": 4,
      "rowPadding": 8.5
    },
    "text": {"font": "Lato", "fontSize": 19.5, "color": "#000000", "baseline": "middle"}
  }
}
